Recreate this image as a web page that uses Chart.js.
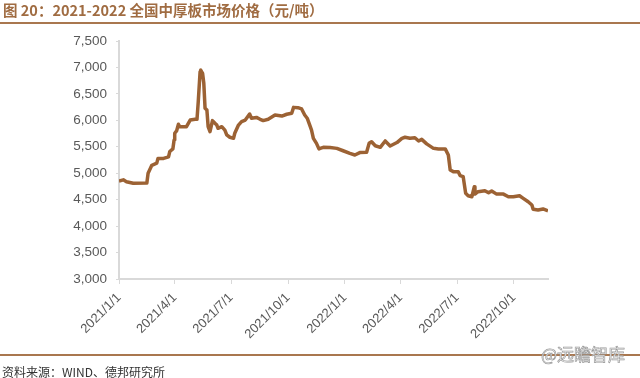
<!DOCTYPE html>
<html>
<head>
<meta charset="utf-8">
<script src="https://cdn.jsdelivr.net/npm/chart.js@4"></script>
<style>
  html, body { margin:0; padding:0; width:640px; height:378px; overflow:hidden; background:#fff; }
  #wrap { position:absolute; left:0; top:0; width:640px; height:378px; }
  #title { position:absolute; left:3px; top:0px; font-family:"Noto Sans CJK SC", sans-serif; font-weight:bold; font-size:14.5px; color:#A06C42; white-space:nowrap; line-height:19px; }
  #topline { position:absolute; left:0; top:22px; width:640px; height:2px; background:#A9774F; }
  #botline { position:absolute; left:0; top:354px; width:640px; height:1.5px; background:#A9774F; }
  #source { position:absolute; left:2px; top:364px; font-family:"Noto Sans CJK SC", sans-serif; font-size:12px; color:#333; white-space:nowrap; line-height:15px; }
  #wm { position:absolute; left:541px; top:343px; font-family:"Noto Sans CJK SC", sans-serif; font-size:17px; color:#fff; -webkit-text-stroke:0.7px #999; white-space:nowrap; line-height:22px; }
  canvas { position:absolute; left:0; top:0; }
</style>
</head>
<body>
<div id="wrap">
  <canvas id="c" width="640" height="378"></canvas>
  <div id="title">图 20：2021-2022 全国中厚板市场价格（元/吨）</div>
  <div id="topline"></div>
  <div id="botline"></div>
  <div id="source">资料来源：WIND、德邦研究所</div>
  <div id="wm">@远瞻智库</div>
</div>
<script>
// days since 2021/1/1
const days = [0,7,12,23,45,47,53,61,63,72,80,82,87,89,90,93,96,98,109,115,123,126,128,131,132,135,137,139,142,144,147,151,155,158,160,166,171,174,179,185,187,193,198,204,211,214,222,228,233,241,252,263,271,279,282,289,295,300,304,309,311,314,319,323,325,330,341,352,362,373,381,389,400,404,408,414,422,430,438,449,457,462,470,478,484,489,497,508,516,527,532,535,540,548,551,556,560,564,570,574,575,580,591,597,602,610,621,629,637,647,653,661,667,669,677,685,693];
const prices = [4850,4875,4840,4810,4815,5000,5150,5190,5280,5280,5310,5410,5460,5630,5755,5800,5925,5880,5880,6005,6020,6020,6350,6920,6950,6890,6700,6230,6195,5880,5785,5995,5945,5910,5850,5880,5815,5725,5680,5660,5755,5910,5975,6005,6120,6040,6055,6020,5995,6020,6100,6080,6115,6135,6245,6240,6215,6100,6040,5880,5815,5660,5565,5460,5470,5490,5485,5470,5425,5375,5345,5390,5395,5565,5595,5520,5490,5610,5515,5580,5660,5680,5660,5670,5610,5640,5555,5470,5460,5460,5345,5060,5030,5030,4955,4935,4620,4575,4555,4745,4605,4650,4670,4630,4665,4605,4605,4555,4555,4575,4525,4460,4400,4320,4305,4325,4290];
const tickDays = [0,90,181,273,365,455,546,638];
const tickLabels = ['2021/1/1','2021/4/1','2021/7/1','2021/10/1','2022/1/1','2022/4/1','2022/7/1','2022/10/1'];
const yMin = 3000, yMax = 7500, yStep = 500;

const pts = days.map((d,i)=>({x:d, y:prices[i]}));
const axisColor = '#d9d9d9';
const labelColor = '#595959';

new Chart(document.getElementById('c'), {
  type: 'line',
  data: { datasets: [{ data: pts, borderColor:'#9C6234', borderWidth:3.5, pointRadius:0, tension:0, fill:false, borderJoinStyle:'round' }] },
  options: {
    responsive:false, animation:false, devicePixelRatio:1,
    layout: { padding: { left:0, right:92, top:41, bottom:0 } },
    plugins: { legend:{display:false}, tooltip:{enabled:false} },
    scales: {
      x: {
        type:'linear', min:0, max:693,
        afterBuildTicks: s => { s.ticks = tickDays.map(v=>({value:v})); },
        afterFit: s => { s.height = 99; },
        grid: { display:true, drawOnChartArea:false, drawTicks:true, tickLength:5, color:axisColor, lineWidth:1 },
        border: { display:true, color:axisColor, width:2 },
        ticks: {
          autoSkip:false, maxRotation:45, minRotation:45, padding:6,
          color:labelColor, font:{ family:'"Liberation Sans", Arial, sans-serif', size:13 },
          callback: v => { const i = tickDays.indexOf(v); return i>=0 ? tickLabels[i] : ''; }
        }
      },
      y: {
        min:yMin, max:yMax,
        afterFit: s => { s.width = 119; },
        grid: { display:true, drawOnChartArea:false, drawTicks:true, tickLength:3, color:axisColor },
        border: { display:true, color:axisColor, width:2 },
        ticks: {
          stepSize:yStep, color:labelColor, padding:9,
          font:{ family:'"Liberation Sans", Arial, sans-serif', size:13.5 },
          callback: v => v.toLocaleString('en-US')
        }
      }
    }
  }
});
</script>
</body>
</html>
